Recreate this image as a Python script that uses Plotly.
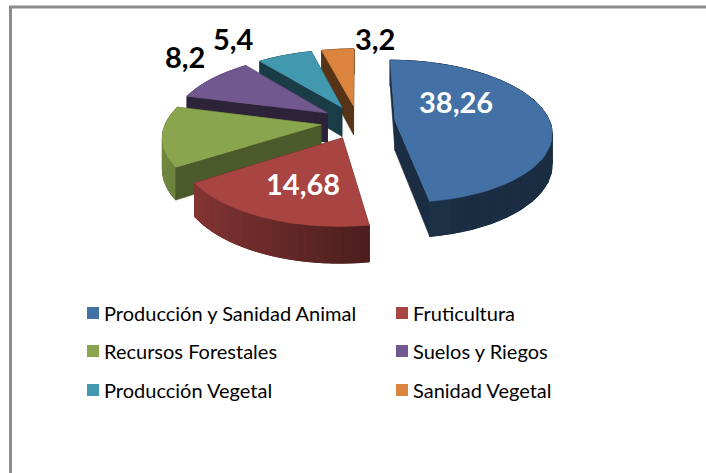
import numpy as np
import plotly.graph_objects as go

categories = ["Producción y Sanidad Animal", "Fruticultura", "Recursos Forestales",
              "Suelos y Riegos", "Producción Vegetal", "Sanidad Vegetal"]
values = [38.26, 14.68, 10.8, 8.2, 5.4, 3.2]
value_labels = ["38,26", "14,68", "", "8,2", "5,4", "3,2"]
colors = ["#4371A6", "#A84442", "#89A54E", "#71588F", "#4198AF", "#DB843D"]
wall_shades = [0.4, 0.4, 0.55, 0.4, 0.4, 0.4]

W, H = 706, 473
CX, CY = 358, 122       # centre of the unexploded pie, px
A, B, K = 155, 70, 0.15  # ellipse radii and perspective strength
EXPLODE = 0.24
DEPTH = 30


def rgb(hex_color, f):
    c = [int(hex_color[i:i + 2], 16) for i in (1, 3, 5)]
    return "rgb({},{},{})".format(*[int(v * f) for v in c])


def project(u, v, z=0.0):
    s = 1.0 / (1 + K * v)
    return CX + A * u * s, CY - B * v * s + z * DEPTH * s


fig = go.Figure()


def poly(xs, ys, color, name, lw=0.6):
    fig.add_trace(go.Scatter(x=list(xs), y=list(ys), mode="lines", fill="toself",
                             fillcolor=color, line=dict(color=color, width=lw),
                             name=name, showlegend=False, hoverinfo="name"))


def shade(t):
    return max(0.4, min(0.82, 0.5 - 0.34 * np.sin(t)))


total = sum(values)
edges = np.cumsum([0] + values) / total * 2 * np.pi
slices = []
for i, (name, color) in enumerate(zip(categories, colors)):
    t0, t1 = edges[i], edges[i + 1]
    mid = (t0 + t1) / 2
    slices.append(dict(i=i, name=name, color=color, t0=t0, t1=t1,
                       au=EXPLODE * np.sin(mid), av=EXPLODE * np.cos(mid)))


def draw_walls(s, u, v, idx):
    for end in (0, -1):
        x0, y0 = project(s["au"], s["av"])
        x1, y1 = project(u[end], v[end])
        x0b, y0b = project(s["au"], s["av"], 1)
        x1b, y1b = project(u[end], v[end], 1)
        poly([x0, x1, x1b, x0b, x0], [y0, y1, y1b, y0b, y0], rgb(s["color"], wall_shades[idx]), s["name"])


def draw_rim(s, u, v, th):
    tx, ty = project(u, v)
    bx, by = project(u, v, 1)
    # one base band under the shaded strips, so no seams show through
    poly(np.r_[tx, bx[::-1], tx[0]], np.r_[ty, by[::-1], ty[0]],
         rgb(s["color"], shade((s["t0"] + s["t1"]) / 2)), s["name"])
    for j in range(0, len(th) - 1, 2):
        k = j + 2
        poly(np.r_[tx[j:k + 1], bx[j:k + 1][::-1], tx[j]], np.r_[ty[j:k + 1], by[j:k + 1][::-1], ty[j]],
             rgb(s["color"], shade((th[j] + th[k]) / 2)), s["name"], lw=1)


# painter's order: far slices first, nearest last
order = [5, 4, 3, 2, 0, 1]
for idx in order:
    s = slices[idx]
    th = np.linspace(s["t0"], s["t1"], 49)
    u = s["au"] + np.sin(th)
    v = s["av"] + np.cos(th)
    if idx in (0, 1):   # near slices: the rim faces the viewer, walls lie behind it
        draw_walls(s, u, v, idx)
        draw_rim(s, u, v, th)
    else:               # far slices: the rim lies behind, walls face the viewer
        draw_rim(s, u, v, th)
        draw_walls(s, u, v, idx)
    px, py = project(np.r_[s["au"], u, s["au"]], np.r_[s["av"], v, s["av"]])
    poly(px, py, s["color"], s["name"])

# value labels: (centre x, centre y, colour)
label_spots = [(456, 101, "white"), (303, 183, "white"), None,
               (185, 56, "black"), (233, 38, "black"), (375, 38, "black")]
for text, spot in zip(value_labels, label_spots):
    if spot:
        fig.add_annotation(x=spot[0], y=spot[1], text="<b>" + text + "</b>", showarrow=False,
                           font=dict(family="Lato", size=29, color=spot[2]))

# legend, two columns by three rows
col_x = [87, 396]
row_y = [313, 351, 390]
for i, name in enumerate(categories):
    lx, ly = col_x[i % 2], row_y[i // 2]
    fig.add_shape(type="rect", x0=lx, x1=lx + 12, y0=ly - 6, y1=ly + 6,
                  fillcolor=colors[i], line=dict(width=0), layer="above")
    fig.add_annotation(x=lx + 15, y=ly, text=name, showarrow=False, xanchor="left",
                       font=dict(family="Lato", size=20, color="black"))

# frame: only the top and left edges show
fig.add_shape(type="line", x0=9, x1=W, y0=7, y1=7, line=dict(color="#8C8C8C", width=3))
fig.add_shape(type="line", x0=10.5, x1=10.5, y0=6, y1=H, line=dict(color="#8C8C8C", width=3))

fig.update_layout(width=W, height=H, margin=dict(l=0, r=0, t=0, b=0), autosize=False,
                  paper_bgcolor="white", plot_bgcolor="white", showlegend=False,
                  xaxis=dict(visible=False, range=[0, W], fixedrange=True),
                  yaxis=dict(visible=False, range=[H, 0], fixedrange=True))
fig.write_html("out.html", config=dict(displayModeBar=False),
               post_script="document.body.style.margin='0';document.body.style.overflow='hidden';")
